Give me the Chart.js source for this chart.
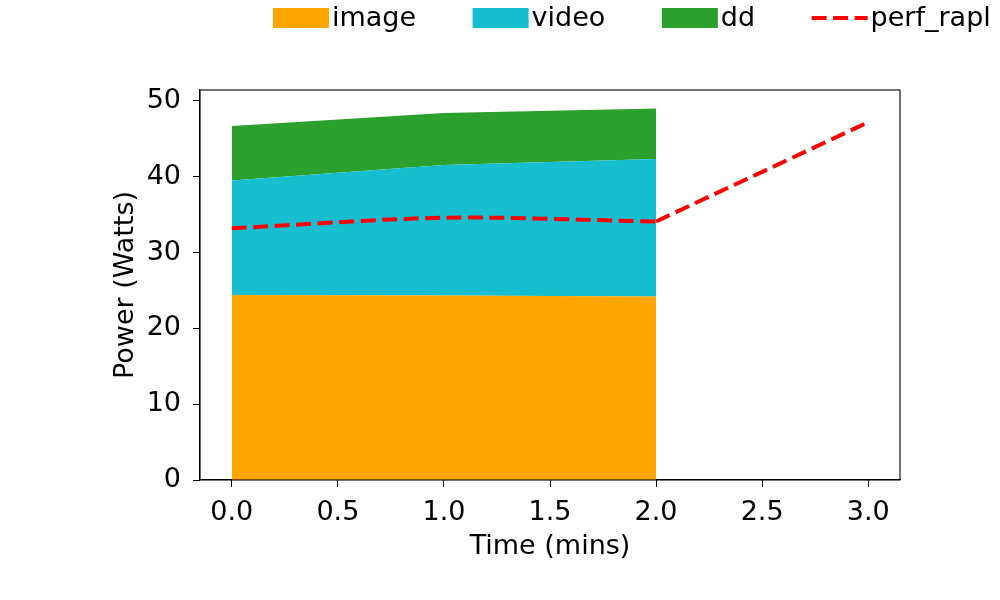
<!DOCTYPE html>
<html>
<head>
<meta charset="utf-8">
<script src="https://cdn.jsdelivr.net/npm/chart.js@4.4.1/dist/chart.umd.min.js"></script>
<style>
html,body{margin:0;padding:0;background:#fff;}
#wrap{width:1000px;height:600px;}
</style>
</head>
<body>
<div id="wrap"><canvas id="c" width="1000" height="600"></canvas></div>
<script>
const times = [0, 1, 2];
const imageVals = [24.4, 24.35, 24.2];
const videoVals = [15.1, 17.2, 18.15];
const ddVals = [7.2, 6.85, 6.65];
const perfTimes = [0, 1, 2, 3];
const perfVals = [33.2, 34.6, 34.1, 47.2];
const xTicks = [0, 0.5, 1, 1.5, 2, 2.5, 3];
const yTicks = [0, 10, 20, 30, 40, 50];

const FONT = 'DejaVu Sans';
const FS = 27;

const pts = (xs, ys) => xs.map((x, i) => ({x: x, y: ys[i]}));
const perfPts = pts(perfTimes, perfVals);

const area = (label, xs, ys, color, fill) => ({
  label: label, data: pts(xs, ys), stack: 'main',
  backgroundColor: color, borderColor: 'rgba(0,0,0,0)', borderWidth: 0,
  pointRadius: 0, fill: fill, tension: 0, legendKind: 'patch', legendColor: color
});

const legendPlugin = {
  id: 'mplLegend',
  afterDraw(chart) {
    const ctx = chart.ctx;
    ctx.save();
    ctx.font = FS + 'px "' + FONT + '"';
    ctx.textBaseline = 'middle';
    let x = 273;
    const cy = 18;
    chart.data.datasets.forEach(ds => {
      if (!ds.legendKind) return;
      if (ds.legendKind === 'patch') {
        ctx.fillStyle = ds.legendColor;
        ctx.fillRect(x, cy - 10, 56, 20);
      } else {
        ctx.strokeStyle = ds.borderColor;
        ctx.lineWidth = 4;
        ctx.setLineDash([15, 6.5]);
        ctx.beginPath();
        ctx.moveTo(x, cy);
        ctx.lineTo(x + 56, cy);
        ctx.stroke();
        ctx.setLineDash([]);
      }
      ctx.fillStyle = '#000';
      ctx.textAlign = 'left';
      ctx.fillText(ds.label, x + 59, cy + 1);
      x += 59 + ctx.measureText(ds.label).width + 56.5;
    });
    ctx.restore();
  }
};

const framePlugin = {
  id: 'frame',
  afterDraw(chart) {
    const a = chart.chartArea, ctx = chart.ctx;
    ctx.save();
    ctx.strokeStyle = '#000';
    ctx.lineWidth = 1.1;
    ctx.strokeRect(a.left, a.top, a.right - a.left, a.bottom - a.top);
    ctx.restore();
  }
};

new Chart(document.getElementById('c'), {
  type: 'line',
  data: {
    datasets: [
      area('image', times, imageVals, '#FFA500', 'origin'),
      area('video', times, videoVals, '#17becf', '-1'),
      area('dd', times, ddVals, '#2ca02c', '-1'),
      {
        label: 'perf_rapl', data: perfPts.slice(0, 3), stack: 'perf', order: -1,
        borderColor: '#ff0000', borderWidth: 4, borderDash: [15, 6.5],
        pointRadius: 0, fill: false, tension: 0.3, legendKind: 'line'
      },
      {
        label: 'perf_rapl', data: perfPts.slice(2), stack: 'perf2', order: -1,
        borderColor: '#ff0000', borderWidth: 4, borderDash: [15, 6.5],
        pointRadius: 0, fill: false, tension: 0
      }
    ]
  },
  options: {
    responsive: false,
    animation: false,
    layout: {padding: {left: 0, top: 90, right: 100, bottom: 0}},
    plugins: {legend: {display: false}, tooltip: {enabled: false}},
    scales: {
      x: {
        type: 'linear', min: -0.15, max: 3.15,
        afterBuildTicks: s => { s.ticks = xTicks.map(v => ({value: v})); },
        afterFit: s => { s.height = 120; },
        grid: {drawOnChartArea: false, drawTicks: true, tickLength: 7, tickColor: '#000', color: '#000'},
        border: {display: true, color: '#000', width: 1.1},
        ticks: {color: '#000', font: {family: FONT, size: FS}, padding: 10,
                maxRotation: 0, autoSkip: false, callback: v => v.toFixed(1)},
        title: {display: true, text: 'Time (mins)', color: '#000',
                font: {family: FONT, size: FS, lineHeight: 1.2}, padding: {top: 0, bottom: 37}}
      },
      y: {
        type: 'linear', min: 0, max: 51.45, stacked: true,
        afterBuildTicks: s => { s.ticks = yTicks.map(v => ({value: v})); },
        afterFit: s => { s.width = 200; },
        grid: {drawOnChartArea: false, drawTicks: true, tickLength: 7, tickColor: '#000', color: '#000'},
        border: {display: true, color: '#000', width: 1.1},
        ticks: {color: '#000', font: {family: FONT, size: FS}, padding: 12},
        title: {display: true, text: 'Power (Watts)', color: '#000',
                font: {family: FONT, size: FS, lineHeight: 1.2}, padding: {top: 110, bottom: 0}}
      }
    }
  },
  plugins: [legendPlugin, framePlugin]
});
</script>
</body>
</html>
